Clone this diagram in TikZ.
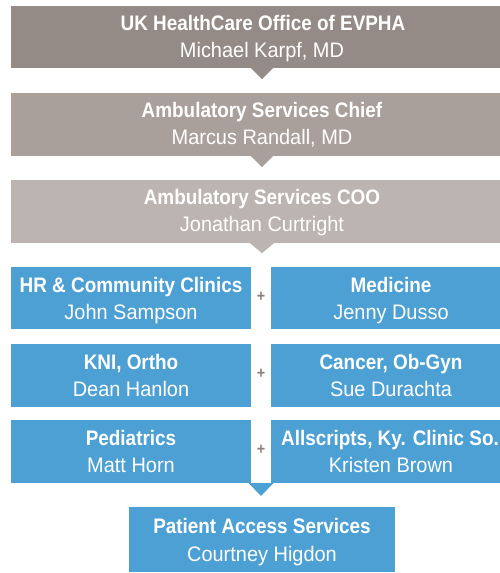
\documentclass[tikz,border=0pt]{standalone}
\usepackage{fontspec}
\setmainfont{Liberation Sans}[FakeStretch=0.95, BoldFeatures={FakeStretch=0.9}]
\definecolor{gA}{HTML}{958B86}
\definecolor{gB}{HTML}{A9A09B}
\definecolor{gC}{HTML}{BCB4B0}
\definecolor{bl}{HTML}{4DA0D3}
\definecolor{pl}{HTML}{8D817B}
\begin{document}
\begin{tikzpicture}[x=1pt,y=-1pt,
  box/.style={rectangle, draw=none, inner sep=0pt, minimum height=62pt},
  txtA/.style={anchor=base, text=white, font=\fontsize{21}{24}\selectfont\bfseries, inner sep=0pt},
  txtB/.style={anchor=base, text=white, font=\fontsize{21}{24}\selectfont, inner sep=0pt},
  plus/.style={text=pl, font=\fontsize{16}{16}\selectfont\bfseries, inner sep=0pt}]
\useasboundingbox (0,0) rectangle (500,573);
\clip (0,0) rectangle (500,573);
% gray boxes
\node[box, fill=gA, minimum width=502pt] (b1) at (262,37) {};
\node[box, fill=gB, minimum width=502pt, minimum height=63pt] (b2) at (262,124.5) {};
\node[box, fill=gC, minimum width=502pt, minimum height=63pt] (b3) at (262,211.5) {};
\fill[gA] (b1.south) ++(-11,0) -- ++(11,11) -- ++(11,-11) -- cycle;
\fill[gB] (b2.south) ++(-11,0) -- ++(11,11) -- ++(11,-11) -- cycle;
\fill[gC] (b3.south) ++(-12,0) -- ++(12,10) -- ++(12,-10) -- cycle;
\node[txtA] (t1a) at (263,30) {UK HealthCare Office of EVPHA};
\node[txtB] (t1b) at (262,57) {Michael Karpf, MD};
\node[txtA] (t2a) at (262,117) {Ambulatory Services Chief};
\node[txtB] (t2b) at (262,144) {Marcus Randall, MD};
\node[txtA] (t3a) at (262,204) {Ambulatory Services COO};
\node[txtB] (t3b) at (262,231) {Jonathan Curtright};
% blue boxes
\node[box, fill=bl, minimum width=240pt] (l1) at (131,298) {};
\node[box, fill=bl, minimum width=240pt] (r1) at (391,298) {};
\node[box, fill=bl, minimum width=240pt, minimum height=63pt] (l2) at (131,375.5) {};
\node[box, fill=bl, minimum width=240pt, minimum height=63pt] (r2) at (391,375.5) {};
\node[box, fill=bl, minimum width=240pt, minimum height=63pt] (l3) at (131,451.5) {};
\node[box, fill=bl, minimum width=240pt, minimum height=63pt] (r3) at (391,451.5) {};
\node[txtA] (l1a) at (131,292) {HR \& Community Clinics};
\node[txtB] (l1b) at (131,319) {John Sampson};
\node[txtA] (r1a) at (391,292) {Medicine};
\node[txtB] (r1b) at (391,319) {Jenny Dusso};
\node[txtA] (l2a) at (131,369) {KNI, Ortho};
\node[txtB] (l2b) at (131,396) {Dean Hanlon};
\node[txtA] (r2a) at (391,369) {Cancer, Ob-Gyn};
\node[txtB] (r2b) at (391,396) {Sue Durachta};
\node[txtA] (l3a) at (131,445) {Pediatrics};
\node[txtB] (l3b) at (131,472) {Matt Horn};
\node[txtA] (r3a) at (390,445) {Allscripts, Ky. Clinic So.};
\node[txtB] (r3b) at (391,472) {Kristen Brown};
\node[plus] (p1) at (261,297) {+};
\node[plus] (p2) at (261,374) {+};
\node[plus] (p3) at (261,450) {+};
\coordinate (tipc) at (261,483);
\fill[bl] (tipc) ++(-12.5,0) -- ++(12.5,13) -- ++(12.5,-13) -- cycle;
% bottom box
\node[box, fill=bl, minimum width=266pt, minimum height=65pt] (bt) at (262,539.5) {};
\node[txtA] (bta) at (262,533) {Patient Access Services};
\node[txtB] (btb) at (262,561) {Courtney Higdon};
\end{tikzpicture}
\end{document}
